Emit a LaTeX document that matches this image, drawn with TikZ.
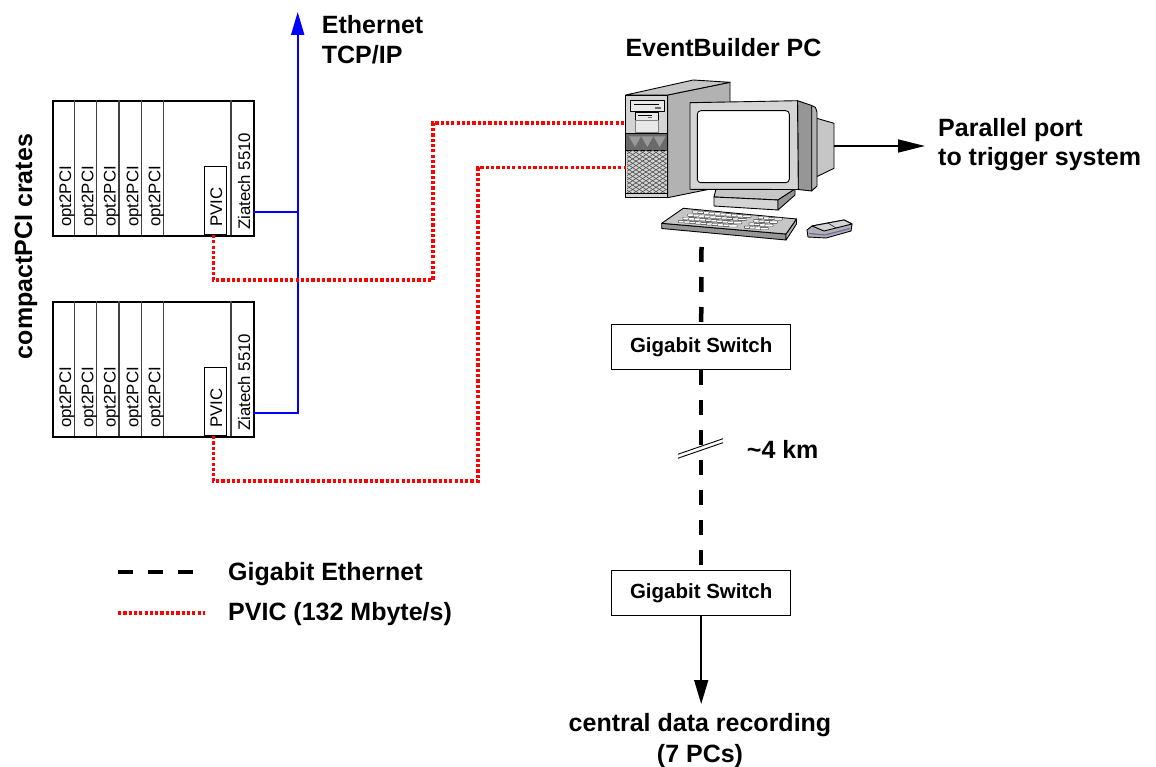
\documentclass[tikz,border=0pt]{standalone}
\usepackage{fontspec}
\setmainfont{Liberation Sans}
\usetikzlibrary{arrows.meta}

\definecolor{pcface}{HTML}{D4D4D4}
\definecolor{pctop}{HTML}{C6C6C6}
\definecolor{pcside}{HTML}{B2B2B2}
\definecolor{pcdeep}{HTML}{969696}
\definecolor{pcdark}{HTML}{6A6A6A}
\definecolor{pclight}{HTML}{E8E8E8}
\definecolor{mousestripe}{HTML}{6C6CA8}

% one compactPCI crate: #1 = index, #2 = top edge
\newcommand{\pcicrate}[2]{%
  \node[cratebox] (crate#1) at (52,#2) {};
  \foreach \xx in {74.3,96.7,119,141.7,163.7,231}
    \draw[divider] (\xx,#2) -- (\xx,#2+135);
  \foreach \xx [count=\k] in {71,93.4,115.7,138.4,160.4}
    \node[card] (opt#1-\k) at (\xx,#2+127) {opt2PCI};
  \node[pvicbox] (pvic#1) at (204,#2+135) {};
  \node[card] (pvictext#1) at (222,#2+127) {PVIC};
  \node[card] (zia#1) at (250,#2+130) {Ziatech 5510};
}

\begin{document}
\begin{tikzpicture}[x=1pt,y=-1pt,
  big/.style={font=\bfseries\fontsize{25}{30}\selectfont, inner sep=0pt},
  card/.style={font=\fontsize{16.8}{18}\selectfont, rotate=90, anchor=base west, inner sep=0pt},
  cratebox/.style={draw, line width=2pt, minimum width=201pt, minimum height=135pt, anchor=north west, inner sep=0pt},
  pvicbox/.style={draw, line width=1.3pt, minimum width=22pt, minimum height=68pt, anchor=south west, inner sep=0pt},
  divider/.style={draw=black!75, line width=1.3pt},
  switchbox/.style={draw, line width=1.4pt, minimum width=179pt, minimum height=45pt, inner sep=0pt,
                    font=\bfseries\fontsize{20.5}{24}\selectfont},
  gbe/.style={line width=4.5pt, dash pattern=on 15pt off 15pt},
  pvicline/.style={draw=red, line width=3.6pt, dash pattern=on 3.2pt off 2.1pt},
  eth/.style={draw=blue, line width=2pt},
  pcline/.style={draw=black, line width=0.9pt, line join=round},
]
\useasboundingbox (0,0) rectangle (1156,767);
\clip (0,0) rectangle (1156,767);

% ---------------- crates ----------------
\pcicrate{1}{100}
\pcicrate{2}{301}
\node[big, rotate=90, anchor=base] (cpci) at (32,246.5) {compactPCI crates};

% ---------------- Ethernet uplink ----------------
\coordinate (ethtop) at (297.7,12);
\coordinate (eth1) at (253,212);
\coordinate (eth2) at (253,413);
\draw[eth, -{Triangle[length=23pt,width=13pt]}] (eth2) -| (ethtop);
\draw[eth] (eth1) -- (ethtop |- eth1);
\node[big, align=left, anchor=north west] (ethlbl) at (321.7,14.8) {Ethernet\\TCP/IP};

% ---------------- EventBuilder PC ----------------
\node[big, anchor=base] (ebtitle) at (723.5,57) {EventBuilder PC};

% tower
\filldraw[pcline, fill=pcside] (667.7,95) -- (730,82.3) -- (730,185) -- (667.7,197.7) -- cycle;
\filldraw[pcline, fill=pctop] (625.7,95) -- (693.3,80) -- (730,82.3) -- (667.7,95) -- cycle;
\filldraw[pcline, fill=pcface] (625.7,95) rectangle (667.7,197.7);
\filldraw[pcline, fill=pclight, line width=0.6pt] (630,100) rectangle (664.3,111);
\draw[line width=0.5pt] (634,104) -- (659,104);
\fill[pcdark] (655,107) rectangle (661,109);
\filldraw[pcline, fill=pclight, line width=0.6pt] (635.7,112.3) rectangle (658.3,120);
\draw[line width=0.5pt] (638,115.5) -- (652,115.5);
\fill[pcdark] (648,117) rectangle (652,118.5);
\filldraw[draw=black!50, fill=pclight, line width=0.5pt] (635.7,120) rectangle (658.3,132.3);
\filldraw[pcline, fill=pcdark] (625.7,133.3) rectangle (667.7,150);
\foreach \i in {0,1,2}
  \fill[black!40] (629+12.3*\i,136.5) -- (641+12.3*\i,136.5) -- (635+12.3*\i,147) -- cycle;
\begin{scope}
  \clip (627,151) rectangle (666.5,193);
  \fill[pcface] (627,151) rectangle (666.5,193);
  \foreach \k in {-8,...,8} {
    \draw[black!70, line width=0.6pt] (606+\k*6.7,146) -- ++(80,52);
    \draw[black!70, line width=0.6pt] (606+\k*6.7,198) -- ++(80,-52);
  }
\end{scope}
\draw[pcline] (625.7,193) -- (667.7,193);
\coordinate (pc1) at (625.7,123);
\coordinate (pc2) at (625.7,167.7);

% monitor: tube, stand, side and bezel
\filldraw[pcline, fill=pctop] (816.7,118.3) -- (834,123.3) -- (834,168.3) -- (816.7,176.7) -- cycle;
\filldraw[pcline, fill=pctop] (716,189) -- (795,189) -- (778,200) -- (714,197) -- cycle;
\filldraw[pcline, fill=pcface] (714,197) -- (778,200) -- (778,210) -- (714,206) -- cycle;
\filldraw[pcline, fill=pcdeep] (778,200) -- (795,189) -- (795,195) -- (778,210) -- cycle;
\filldraw[pcline, fill=pcdeep] (797.5,100.7) -- (811.7,105.5) -- (811.7,191) -- (798.3,189.5) -- cycle;
\filldraw[pcline, fill=pcside] (811.7,105.5) -- (815.5,107.5) -- (817,112) -- (817,186) -- (811.7,191) -- cycle;
\filldraw[pcline, fill=pcface] (690,102.7) -- (797.5,100.7) -- (798.3,189.5) -- (690,189.3) -- cycle;
\filldraw[pcline, fill=white, rounded corners=3.5pt] (697.3,110.7) rectangle (789.3,182.7);
\coordinate (monback) at (834,146);

% keyboard
\filldraw[pcline, fill=pcdeep] (661.7,223.3) -- (786,234) -- (786,240) -- (661.7,228.5) -- cycle;
\filldraw[pcline, fill=pcside] (786,234) -- (796.5,219) -- (796.5,224) -- (786,240) -- cycle;
\filldraw[pcline, fill=pctop] (661.7,223.3) -- (683.3,208.3) -- (796.5,219) -- (786,234) -- cycle;
\begin{scope}[shift={(661.7,223.3)}, x={(1pt,-0.086pt)}, y={(1.44pt,1pt)}]
  \foreach \v in {1.8,5,8.2,11.4} {
    \foreach \u in {14,19.6,...,64.5}
      \filldraw[draw=black!80, fill=white, line width=0.4pt, rounded corners=0.6pt] (\u,\v) rectangle ++(4.7,2.7);
    \foreach \u in {80,85.3,90.6,95.9}
      \filldraw[draw=black!80, fill=white, line width=0.4pt, rounded corners=0.6pt] (\u,\v) rectangle ++(4.4,2.7);
  }
\end{scope}

% mouse
\filldraw[pcline, fill=pcside] (807,230) -- (812,226) -- (844,220) -- (852,224) -- (851,231) -- (826,238) -- (808,237) -- cycle;
\filldraw[pcline, fill=pcface] (812,226) -- (844,220) -- (852,224) -- (824,231) -- cycle;
\draw[mousestripe, line width=1.3pt] (809,233.5) -- (825,235) -- (850,228.5);
\draw[line width=0.5pt] (828,223) -- (836,228);

% parallel port
\node[big, align=left, anchor=north west, font=\bfseries\fontsize{25}{29}\selectfont] (par) at (938,117.8) {Parallel port\\to trigger system};
\draw[line width=1.5pt, shorten >=13pt, -{Triangle[length=27pt,width=13pt]}] (monback) -- (monback -| par.west);

% ---------------- PVIC links ----------------
\draw[pvicline] ([xshift=-2.3pt]pvic1.south) |- (433,280) -- (433,123) -- (pc1);
\draw[pvicline] ([xshift=-2.3pt]pvic2.south) |- (478,481) -- (478,167.7) -- (pc2);

% ---------------- Gigabit chain ----------------
\coordinate (pcbase) at (701.5,247);
\node[switchbox] (sw1) at (701.2,346.8) {Gigabit Switch};
\node[switchbox] (sw2) at (701.2,593) {Gigabit Switch};
\draw[gbe] (pcbase) -- (sw1.north);
\draw[gbe] (sw1.south) -- (sw2.north);

% distance break mark
\coordinate (brkA) at (678,456.2);
\coordinate (brkB) at (723,440.7);
\draw[white, line width=4pt] (brkA) -- (brkB);
\draw[line width=0.9pt] ([yshift=2pt]brkA) -- ([yshift=2pt]brkB);
\draw[line width=0.9pt] ([yshift=-2pt]brkA) -- ([yshift=-2pt]brkB);
\node[big, anchor=base west] (km) at (746.7,458.5) {\textasciitilde 4 km};

% recording farm
\node[big, align=center, anchor=north, font=\bfseries\fontsize{25}{31}\selectfont] (rec) at (700,713.5) {central data recording\\(7 PCs)};
\draw[line width=1.5pt, shorten >=9.5pt, -{Triangle[length=24pt,width=14pt]}] (sw2.south) -- (sw2.south |- rec.north);

% ---------------- legend ----------------
\coordinate (lgA1) at (118,572);
\coordinate (lgA2) at (193,572);
\coordinate (lgB1) at (118,613);
\coordinate (lgB2) at (205,613);
\draw[gbe] (lgA1) -- (lgA2);
\draw[pvicline] (lgB1) -- (lgB2);
\node[big, anchor=base west] (lgtextA) at (228,580) {Gigabit Ethernet};
\node[big, anchor=base west] (lgtextB) at (228,620.7) {PVIC (132 Mbyte/s)};
\end{tikzpicture}
\end{document}
